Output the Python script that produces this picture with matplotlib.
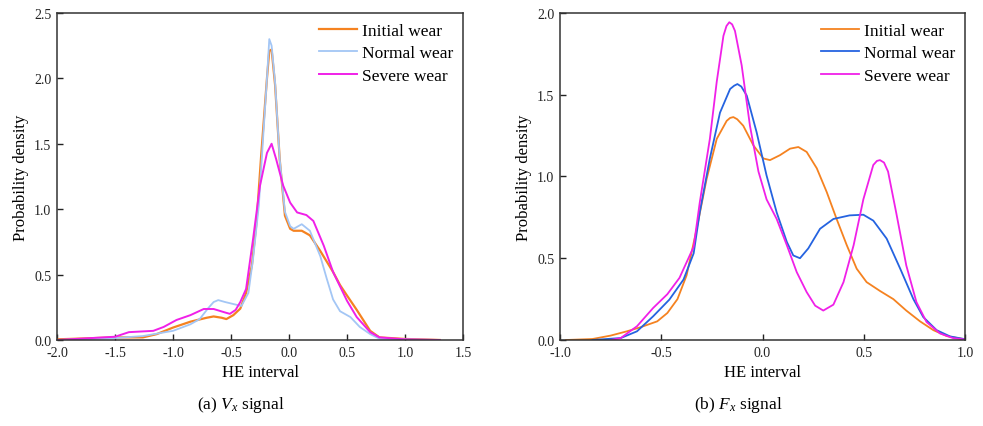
import matplotlib
matplotlib.use("Agg")
import matplotlib.pyplot as plt

plt.rcParams["font.family"] = ["Liberation Serif", "DejaVu Serif"]
plt.rcParams["mathtext.fontset"] = "custom"
plt.rcParams["mathtext.rm"] = "Liberation Serif"
plt.rcParams["mathtext.it"] = "Liberation Serif:italic"
plt.rcParams["axes.unicode_minus"] = False

# (a) Vx signal
vx_initial_x = [-2.0, -1.5, -1.26, -1.14, -1.0, -0.85, -0.71, -0.65, -0.58, -0.54, -0.48, -0.42,
                -0.37, -0.32, -0.28, -0.24, -0.19, -0.17, -0.15, -0.12, -0.08, -0.035, 0.01, 0.04,
                0.11, 0.18, 0.27, 0.38, 0.44, 0.5, 0.584, 0.7, 0.78, 1.0, 1.3]
vx_initial_y = [0.005, 0.02, 0.02, 0.045, 0.095, 0.14, 0.17, 0.18, 0.17, 0.16, 0.19, 0.24,
                0.36, 0.57, 0.9, 1.41, 2.0, 2.21, 2.22, 1.95, 1.38, 0.95, 0.85, 0.835,
                0.835, 0.8, 0.68, 0.52, 0.42, 0.34, 0.23, 0.07, 0.02, 0.008, 0.0]

vx_normal_x = [-2.0, -1.5, -1.26, -1.0, -0.85, -0.77, -0.7, -0.65, -0.61, -0.55, -0.48, -0.41,
               -0.35, -0.31, -0.26, -0.22, -0.19, -0.17, -0.15, -0.12, -0.08, -0.035, 0.01, 0.04,
               0.11, 0.18, 0.27, 0.325, 0.38, 0.44, 0.5, 0.53, 0.61, 0.7, 0.78, 1.0, 1.3]
vx_normal_y = [0.0, 0.015, 0.03, 0.07, 0.12, 0.16, 0.24, 0.29, 0.305, 0.29, 0.275, 0.26,
               0.36, 0.62, 1.03, 1.59, 2.0, 2.3, 2.25, 1.97, 1.38, 0.98, 0.87, 0.85,
               0.885, 0.835, 0.64, 0.47, 0.31, 0.22, 0.19, 0.175, 0.1, 0.045, 0.01, 0.005, 0.0]

vx_severe_x = [-2.0, -1.7, -1.5, -1.38, -1.17, -1.08, -0.97, -0.85, -0.735, -0.65, -0.55, -0.51,
               -0.46, -0.42, -0.37, -0.31, -0.25, -0.19, -0.15, -0.11, -0.05, 0.01, 0.07, 0.15,
               0.21, 0.3, 0.38, 0.5, 0.584, 0.7, 0.78, 1.0, 1.3]
vx_severe_y = [0.0, 0.015, 0.025, 0.06, 0.07, 0.10, 0.153, 0.19, 0.237, 0.237, 0.21, 0.20,
               0.23, 0.29, 0.39, 0.77, 1.18, 1.43, 1.5, 1.38, 1.18, 1.05, 0.975, 0.955,
               0.91, 0.72, 0.52, 0.3, 0.175, 0.06, 0.02, 0.005, 0.0]

# (b) Fx signal
fx_initial_x = [-0.97, -0.84, -0.75, -0.67, -0.605, -0.52, -0.47, -0.42, -0.375, -0.325, -0.276,
                -0.226, -0.177, -0.16, -0.144, -0.125, -0.095, -0.045, 0.004, 0.037, 0.086, 0.136,
                0.177, 0.218, 0.268, 0.317, 0.366, 0.416, 0.465, 0.514, 0.58, 0.646, 0.71, 0.778,
                0.844, 0.91, 1.0]
fx_initial_y = [0.0, 0.006, 0.027, 0.053, 0.077, 0.114, 0.165, 0.25, 0.395, 0.68, 0.985,
                1.23, 1.34, 1.358, 1.363, 1.35, 1.31, 1.19, 1.11, 1.10, 1.13, 1.17,
                1.18, 1.15, 1.05, 0.905, 0.74, 0.58, 0.436, 0.354, 0.30, 0.25, 0.18, 0.114,
                0.06, 0.024, 0.004]

fx_normal_x = [-0.84, -0.70, -0.62, -0.54, -0.46, -0.39, -0.34, -0.31, -0.26, -0.21, -0.16, -0.14,
               -0.124, -0.105, -0.078, -0.029, 0.02, 0.07, 0.12, 0.152, 0.185, 0.226, 0.284, 0.35,
               0.43, 0.498, 0.547, 0.613, 0.68, 0.745, 0.794, 0.86, 0.926, 1.0]
fx_normal_y = [0.0, 0.012, 0.053, 0.145, 0.247, 0.37, 0.53, 0.78, 1.11, 1.39, 1.535, 1.555,
               1.565, 1.55, 1.495, 1.27, 1.006, 0.78, 0.6, 0.517, 0.50, 0.56, 0.68, 0.74,
               0.762, 0.766, 0.73, 0.62, 0.436, 0.25, 0.14, 0.06, 0.022, 0.005]

fx_severe_x = [-0.75, -0.70, -0.62, -0.54, -0.47, -0.41, -0.34, -0.31, -0.26, -0.226, -0.193,
               -0.178, -0.164, -0.15, -0.136, -0.103, -0.062, -0.02, 0.02, 0.07, 0.12, 0.169,
               0.218, 0.26, 0.30, 0.35, 0.40, 0.45, 0.498, 0.547, 0.565, 0.58, 0.60, 0.62, 0.66,
               0.71, 0.76, 0.81, 0.877, 0.94, 1.0]
fx_severe_y = [0.0, 0.012, 0.084, 0.196, 0.28, 0.38, 0.57, 0.84, 1.23, 1.58, 1.86,
               1.92, 1.943, 1.93, 1.89, 1.68, 1.31, 1.03, 0.86, 0.74, 0.58, 0.415,
               0.293, 0.21, 0.18, 0.216, 0.354, 0.58, 0.86, 1.07, 1.095, 1.10, 1.085, 1.03, 0.78,
               0.456, 0.232, 0.11, 0.04, 0.012, 0.003]

labels = ["Initial wear", "Normal wear", "Severe wear"]
vx_ticks = [-2.0, -1.5, -1.0, -0.5, 0.0, 0.5, 1.0, 1.5]
vx_yticks = [0.0, 0.5, 1.0, 1.5, 2.0, 2.5]
fx_ticks = [-1.0, -0.5, 0.0, 0.5, 1.0]
fx_yticks = [0.0, 0.5, 1.0, 1.5, 2.0]


def style_axes(ax, xticks, yticks):
    ax.set_xticks(xticks)
    ax.set_yticks(yticks)
    ax.set_xticklabels(["%.1f" % t for t in xticks])
    ax.set_yticklabels(["%.1f" % t for t in yticks])
    ax.set_xlim(xticks[0], xticks[-1])
    ax.set_ylim(yticks[0], yticks[-1])
    ax.tick_params(direction="in", length=4, width=1, labelsize=10, pad=4, colors="#222222")
    for sp in ax.spines.values():
        sp.set_linewidth(1.1)
        sp.set_color("#333333")
    ax.set_xlabel("HE interval", fontsize=12, labelpad=4)
    ax.set_ylabel("Probability density", fontsize=12, labelpad=4)
    ax.legend(loc="upper right", frameon=False, fontsize=12.5, handlelength=2.2,
              labelspacing=0.38, handletextpad=0.3, borderpad=0.3, borderaxespad=0.25)


fig = plt.figure(figsize=(9.83, 4.27), dpi=100)
ax1 = fig.add_axes([0.058, 0.2014, 0.413, 0.766])
ax2 = fig.add_axes([0.5697, 0.2014, 0.412, 0.766])

ax1.plot(vx_initial_x, vx_initial_y, color="#F58220", lw=1.6, label=labels[0])
ax1.plot(vx_normal_x, vx_normal_y, color="#A3C6F5", lw=1.3, label=labels[1])
ax1.plot(vx_severe_x, vx_severe_y, color="#F020E8", lw=1.4, label=labels[2])
style_axes(ax1, vx_ticks, vx_yticks)

ax2.plot(fx_initial_x, fx_initial_y, color="#F58220", lw=1.3, label=labels[0])
ax2.plot(fx_normal_x, fx_normal_y, color="#2563E0", lw=1.3, label=labels[1])
ax2.plot(fx_severe_x, fx_severe_y, color="#F020E8", lw=1.3, label=labels[2])
style_axes(ax2, fx_ticks, fx_yticks)

fig.text(0.245, 0.052, "(a) $V_x$ signal", ha="center", va="center", fontsize=12.5)
fig.text(0.751, 0.052, "(b) $F_x$ signal", ha="center", va="center", fontsize=12.5)

fig.savefig("out.png", dpi=100)
